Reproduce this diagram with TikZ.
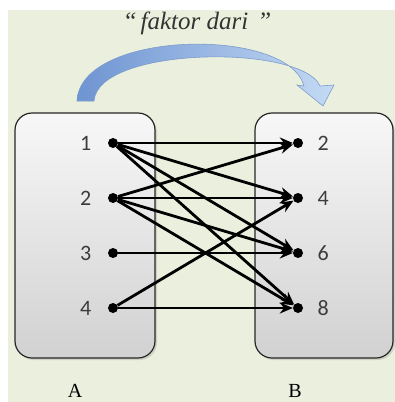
\documentclass[tikz,border=0pt]{standalone}
\usepackage{fontspec}
\setmainfont{Liberation Serif}
\newfontfamily\digitfont{Carlito}
\newfontfamily\titlefont{Liberation Serif Italic}
\usetikzlibrary{arrows.meta,positioning,shadows}

\definecolor{bgcolor}{HTML}{EAF0DD}
\definecolor{arrowdark}{HTML}{6E94D2}
\definecolor{arrowlight}{HTML}{C4DAF4}
\definecolor{arrowedge}{HTML}{7E9CCB}
\definecolor{numcolor}{HTML}{3C3C3C}

\begin{document}
\begin{tikzpicture}[x=1pt, y=-1pt,
    dot/.style = {circle, fill=black, inner sep=0pt, minimum size=10pt},
    num/.style = {font=\digitfont\fontsize{22}{22}\selectfont, text=numcolor},
    map/.style = {line width=2.8pt, -{Stealth[length=13pt,width=11pt]}},
    setbox/.style = {draw=black!85, line width=1.2pt, rounded corners=17pt,
        top color=gray!6, bottom color=gray!36,
        drop shadow={opacity=0.25, shadow xshift=2pt, shadow yshift=-2pt}}]
    \useasboundingbox (0,0) rectangle (395,402);
    \fill[white] (0,0) rectangle (395,402);
    \fill[bgcolor] (8,10) rectangle (395,402);

    % the two sets
    \node[setbox, minimum width=140pt, minimum height=245pt] (boxA) at (85,235.5) {};
    \node[setbox, minimum width=138pt, minimum height=245pt] (boxB) at (324,235.5) {};
    \node[font=\fontsize{20}{20}\selectfont] (setA) at (75,391) {A};
    \node[font=\fontsize{20}{20}\selectfont] (setB) at (295,391) {B};

    % big curved arrow
    \path[draw=arrowedge, line width=0.6pt, left color=arrowdark, right color=arrowlight]
        (77,101) .. controls (80,30) and (288,26) .. (304,86) -- (297,85) -- (323,106)
        -- (334,85) -- (320,86) .. controls (302,44) and (98,46) .. (94,101) -- cycle;
    \node[font=\titlefont\fontsize{25}{25}\selectfont, text=black!80] (title) at (197,23)
        {“\hspace{4pt}faktor dari\hspace{9pt}”};

    % elements
    \foreach \i/\y in {1/143, 2/198, 3/253, 4/308} {
        \node[dot] (a\i) at (113,\y) {};
        \node[num, left=13pt of a\i] (la\i) {\i};
    }
    \foreach \j/\y in {2/143, 4/198, 6/253, 8/308} {
        \node[dot] (b\j) at (298,\y) {};
        \node[num, right=11pt of b\j] (lb\j) {\j};
    }

    % relation
    \foreach \i/\j in {1/2, 1/4, 1/6, 1/8, 2/2, 2/4, 2/6, 2/8, 3/6, 4/4, 4/8}
        \draw[map] (a\i) -- (b\j);
\end{tikzpicture}
\end{document}
